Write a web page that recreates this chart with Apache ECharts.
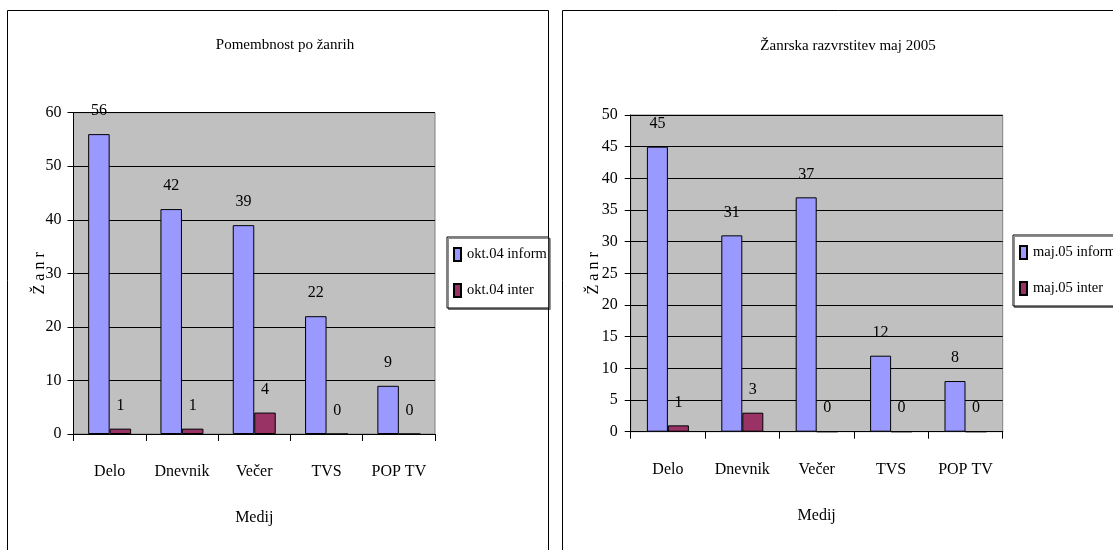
<!DOCTYPE html>
<html>
<head>
<meta charset="utf-8">
<script src="https://cdn.jsdelivr.net/npm/echarts@6/dist/echarts.min.js"></script>
<style>
html,body{margin:0;padding:0;background:#fff;}
#c{width:1113px;height:550px;}
</style>
</head>
<body>
<div id="c"></div>
<script>
// ---- data ----
const categories = ['Delo', 'Dnevnik', 'Večer', 'TVS', 'POP TV'];
const okt04Inform = [56, 42, 39, 22, 9];
const okt04Inter = [1, 1, 4, 0, 0];
const maj05Inform = [45, 31, 37, 12, 8];
const maj05Inter = [1, 3, 0, 0, 0];
const leftTitle = 'Pomembnost po žanrih';
const rightTitle = 'Žanrska razvrstitev maj 2005';
const yName = 'Ž a n r';
const xName = 'Medij';

const FONT = "'Liberation Serif', 'Times New Roman', serif";
const chart = echarts.init(document.getElementById('c'), null, {renderer: 'canvas'});

function xAxisCfg(idx) {
  return {
    type: 'category', gridIndex: idx, data: categories,
    axisLine: {lineStyle: {color: '#000', width: 1}},
    axisTick: {show: true, length: 7, alignWithLabel: false, lineStyle: {color: '#000'}},
    axisLabel: {margin: 30, color: '#000', fontFamily: FONT, fontSize: 16, interval: 0},
    name: xName, nameLocation: 'middle', nameGap: 76, nameMoveOverlap: false,
    nameTextStyle: {color: '#000', fontFamily: FONT, fontSize: 16}
  };
}
function yAxisCfg(idx, max, interval, gap, margin) {
  return {
    type: 'value', gridIndex: idx, min: 0, max: max, interval: interval,
    axisLine: {show: true, lineStyle: {color: '#000', width: 1}},
    axisTick: {show: true, length: 6, lineStyle: {color: '#000'}},
    axisLabel: {margin: margin, color: '#000', fontFamily: FONT, fontSize: 16},
    splitLine: {show: true, lineStyle: {color: '#000', width: 1}},
    name: yName, nameLocation: 'middle', nameGap: gap, nameMoveOverlap: false,
    nameTextStyle: {color: '#000', fontFamily: FONT, fontSize: 16}
  };
}
const labelCfg = {show: true, position: 'top', distance: 15, color: '#000', fontFamily: FONT, fontSize: 16};
function barSeries(name, data, idx, color, w) {
  return {
    type: 'bar', name: name, data: data, xAxisIndex: idx, yAxisIndex: idx,
    barWidth: w, barGap: '0%',
    itemStyle: {color: color, borderColor: '#000', borderWidth: 1},
    label: labelCfg, emphasis: {disabled: true}
  };
}
function legendCfg(names, left, top) {
  return {
    data: names, orient: 'vertical', left: left, top: top,
    itemWidth: 7, itemHeight: 13, itemGap: 21, icon: 'rect',
    padding: [10, 2, 10, 6],
    backgroundColor: '#fff', borderColor: '#000', borderWidth: 1,
    shadowColor: 'rgba(0,0,0,0.45)', shadowOffsetX: 1.5, shadowOffsetY: 1.5, shadowBlur: 0,
    textStyle: {color: '#000', fontFamily: FONT, fontSize: 14.5, padding: [0, 0, 0, 1]},
    selectedMode: false
  };
}

chart.setOption({
  animation: false,
  backgroundColor: '#fff',
  title: [
    {text: leftTitle, left: 280, top: 33, textAlign: 'center',
     textStyle: {color: '#000', fontFamily: FONT, fontSize: 15, fontWeight: 'normal'}},
    {text: rightTitle, left: 843, top: 34, textAlign: 'center',
     textStyle: {color: '#000', fontFamily: FONT, fontSize: 15, fontWeight: 'normal'}}
  ],
  graphic: [
    {type: 'rect', shape: {x: 7.5, y: 10.5, width: 541, height: 560}, silent: true, z: -10,
     style: {fill: 'none', stroke: '#000', lineWidth: 1}},
    {type: 'rect', shape: {x: 562.5, y: 10.5, width: 600, height: 560}, silent: true, z: -10,
     style: {fill: 'none', stroke: '#000', lineWidth: 1}}
  ],
  grid: [
    {left: 73.5, top: 112.7, width: 361.5, height: 321.3, show: true,
     backgroundColor: '#C0C0C0', borderColor: '#808080', borderWidth: 1},
    {left: 630.7, top: 115, width: 372, height: 316.7, show: true,
     backgroundColor: '#C0C0C0', borderColor: '#808080', borderWidth: 1}
  ],
  legend: [
    legendCfg(['okt.04 inform', 'okt.04 inter'], 447, 237),
    legendCfg(['maj.05 inform', 'maj.05 inter'], 1013, 235)
  ],
  xAxis: [xAxisCfg(0), xAxisCfg(1)],
  yAxis: [yAxisCfg(0, 60, 10, 26, 12), yAxisCfg(1, 50, 5, 29, 13)],
  series: [
    barSeries('okt.04 inform', okt04Inform, 0, '#9999FF', 21.5),
    barSeries('okt.04 inter', okt04Inter, 0, '#993366', 21.5),
    barSeries('maj.05 inform', maj05Inform, 1, '#9999FF', 21),
    barSeries('maj.05 inter', maj05Inter, 1, '#993366', 21)
  ]
});
</script>
</body>
</html>
